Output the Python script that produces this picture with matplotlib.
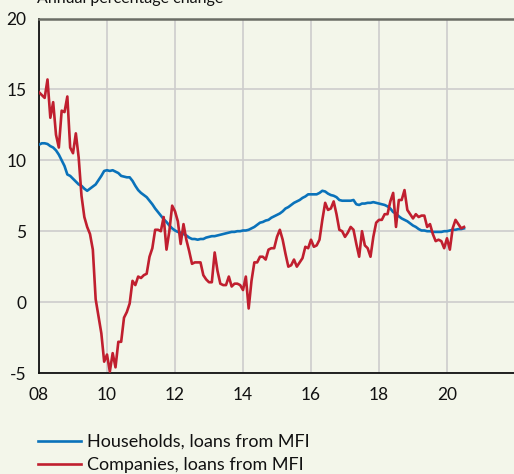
import numpy as np
import matplotlib
matplotlib.use("Agg")
import matplotlib.pyplot as plt

plt.rcParams['font.family'] = ['Lato', 'DejaVu Sans']

start_year = 2008
households = [
    11.1, 11.2, 11.2, 11.15, 11.0, 10.9, 10.7, 10.4, 10.0, 9.6, 9.0, 8.9,
    8.7, 8.5, 8.3, 8.2, 8.0, 7.85, 8.0, 8.15, 8.3, 8.6, 8.9, 9.25,
    9.3, 9.25, 9.3, 9.2, 9.1, 8.9, 8.85, 8.8, 8.8, 8.55, 8.2, 7.9,
    7.7, 7.55, 7.4, 7.15, 6.9, 6.6, 6.35, 6.1, 5.85, 5.65, 5.4, 5.2,
    5.05, 4.95, 4.9, 4.8, 4.7, 4.55, 4.45, 4.45, 4.4, 4.45, 4.45, 4.55,
    4.6, 4.65, 4.65, 4.7, 4.75, 4.8, 4.85, 4.9, 4.95, 4.95, 5.0, 5.0,
    5.05, 5.05, 5.1, 5.2, 5.3, 5.45, 5.6, 5.65, 5.75, 5.8, 5.95, 6.05,
    6.15, 6.25, 6.4, 6.6, 6.7, 6.85, 7.0, 7.1, 7.2, 7.35, 7.45, 7.6,
    7.6, 7.6, 7.6, 7.7, 7.85, 7.8, 7.65, 7.55, 7.5, 7.4, 7.2, 7.15,
    7.15, 7.15, 7.15, 7.2, 6.9, 6.85, 6.95, 6.95, 7.0, 7.0, 7.05, 7.0,
    6.95, 6.9, 6.85, 6.75, 6.6, 6.35, 6.25, 6.05, 5.9, 5.8, 5.7, 5.55,
    5.4, 5.3, 5.15, 5.05, 5.05, 5.0, 5.0, 4.95, 4.95, 4.95, 4.95, 5.0,
    5.0, 5.05, 5.1, 5.1, 5.15, 5.15, 5.2,
]
companies = [
    14.8, 14.6, 14.4, 15.7, 13.0, 14.1, 11.8, 10.9, 13.5, 13.4, 14.5, 10.9,
    10.5, 11.9, 10.2, 7.5, 6.0, 5.3, 4.8, 3.7, 0.2, -1.0, -2.2, -4.2,
    -3.7, -4.9, -3.6, -4.6, -2.8, -2.8, -1.1, -0.7, -0.1, 1.5, 1.2, 1.8,
    1.7, 1.9, 2.0, 3.2, 3.8, 5.1, 5.1, 5.0, 6.0, 3.7, 5.0, 6.8,
    6.4, 5.7, 4.1, 5.5, 4.4, 3.6, 2.7, 2.8, 2.8, 2.8, 1.9, 1.6,
    1.4, 1.4, 3.5, 2.2, 1.3, 1.2, 1.2, 1.8, 1.1, 1.3, 1.3, 1.2,
    0.85, 1.8, -0.45, 1.5, 2.8, 2.8, 3.2, 3.2, 3.0, 3.7, 3.8, 3.8,
    4.6, 5.1, 4.4, 3.4, 2.5, 2.6, 3.0, 2.5, 2.8, 3.1, 3.9, 3.8,
    4.4, 3.9, 4.0, 4.4, 5.8, 7.0, 6.5, 6.6, 7.1, 6.2, 5.1, 5.0,
    4.6, 4.9, 5.3, 5.1, 4.1, 3.2, 5.0, 4.0, 3.8, 3.2, 4.6, 5.6,
    5.8, 5.8, 6.2, 6.2, 7.1, 7.7, 5.3, 7.2, 7.2, 7.9, 6.5, 6.2,
    5.9, 6.2, 6.0, 6.1, 6.1, 5.3, 5.5, 4.8, 4.3, 4.4, 4.3, 3.8,
    4.5, 3.7, 5.2, 5.8, 5.5, 5.2, 5.3,
]
x_ticks = [2008, 2010, 2012, 2014, 2016, 2018, 2020, 2022]
x_labels = ["08", "10", "12", "14", "16", "18", "20", ""]
y_ticks = [-5, 0, 5, 10, 15, 20]
y_labels = ["-5", "0", "5", "10", "15", "20"]
series_labels = ["Households, loans from MFI", "Companies, loans from MFI"]
title = "Annual percentage change"

bg = '#f3f6ea'
W, H = 514, 474
fig = plt.figure(figsize=(W / 100, H / 100), dpi=100, facecolor=bg)
ax = fig.add_axes([39 / W, 1 - 373 / H, (515 - 39) / W, (373 - 18.5) / H])
ax.set_facecolor(bg)

t_h = start_year + np.arange(len(households)) / 12
t_c = start_year + np.arange(len(companies)) / 12
l1, = ax.plot(t_h, households, color='#0a72ba', lw=1.9, solid_joinstyle='round', zorder=3)
l2, = ax.plot(t_c, companies, color='#c01f2f', lw=1.9, solid_joinstyle='round', zorder=4)

ax.set_xlim(2008, 2022)
ax.set_ylim(-5, 20)
ax.set_xticks(x_ticks)
ax.set_xticklabels(x_labels)
ax.set_yticks(y_ticks)
ax.set_yticklabels(y_labels)
ax.tick_params(length=0, labelsize=12.5, colors='#111111')
ax.tick_params(axis='x', pad=10)
ax.tick_params(axis='y', pad=9)
ax.grid(True, color='#cdcdcd', lw=1.2)
ax.set_axisbelow(True)

for s in ['left', 'bottom']:
    ax.spines[s].set_color('#111111')
    ax.spines[s].set_linewidth(1.3)
ax.spines['top'].set_color('#6b6d66')
ax.spines['top'].set_linewidth(1.8)
ax.spines['right'].set_visible(False)

fig.text(37 / W, 1 - 3 / H, title, fontsize=11.5, color='#111111', va='baseline', ha='left')

leg = fig.legend([l1, l2], series_labels, loc='upper left',
                 bbox_to_anchor=(38 / W, 1 - 434 / H), frameon=False,
                 fontsize=13, handlelength=2.4, handletextpad=0.3,
                 labelspacing=0.38, borderpad=0, borderaxespad=0)
for t in leg.get_texts():
    t.set_color('#111111')

fig.savefig('out.png', dpi=100, facecolor=bg)
